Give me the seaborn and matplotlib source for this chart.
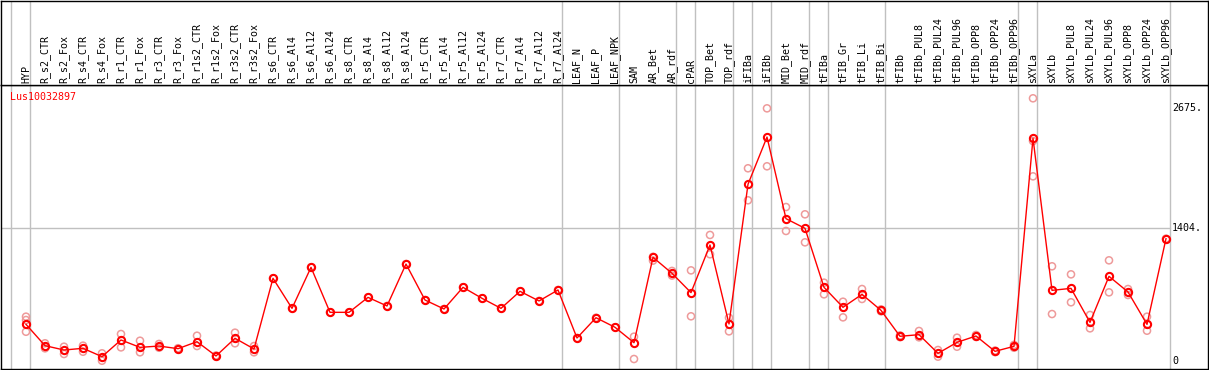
import numpy as np
import pandas as pd
import seaborn as sns
import matplotlib.pyplot as plt

## DATA ##
samples = ['HYP',
           'R_s2_CTR', 'R_s2_Fox', 'R_s4_CTR', 'R_s4_Fox', 'R_r1_CTR', 'R_r1_Fox',
           'R_r3_CTR', 'R_r3_Fox', 'R_r1s2_CTR', 'R_r1s2_Fox', 'R_r3s2_CTR', 'R_r3s2_Fox',
           'R_s6_CTR', 'R_s6_Al4', 'R_s6_Al12', 'R_s6_Al24', 'R_s8_CTR', 'R_s8_Al4',
           'R_s8_Al12', 'R_s8_Al24', 'R_r5_CTR', 'R_r5_Al4', 'R_r5_Al12', 'R_r5_Al24',
           'R_r7_CTR', 'R_r7_Al4', 'R_r7_Al12', 'R_r7_Al24',
           'LEAF_N', 'LEAF_P', 'LEAF_NPK', 'SAM', 'AR_Bet', 'AR_rdf', 'cPAR',
           'TOP_Bet', 'TOP_rdf', 'iFIBa', 'iFIBb', 'MID_Bet', 'MID_rdf', 'tFIBa',
           'tFIB_Gr', 'tFIB_Li', 'tFIB_Bi', 'tFIBb', 'tFIBb_PUL8', 'tFIBb_PUL24',
           'tFIBb_PUL96', 'tFIBb_OPP8', 'tFIBb_OPP24', 'tFIBb_OPP96', 'sXYLa', 'sXYLb',
           'sXYLb_PUL8', 'sXYLb_PUL24', 'sXYLb_PUL96', 'sXYLb_OPP8', 'sXYLb_OPP24',
           'sXYLb_OPP96']

mean_expr = [387,
             162, 116, 134, 46, 222, 144, 158, 130, 204, 53, 240, 127,
             873, 556, 989, 514, 514, 672, 581, 1024, 644, 549, 778, 662,
             556, 736, 634, 750,
             243, 457, 356, 193, 1095, 926, 722, 1225, 391, 1866, 2365, 1503, 1401,
             778, 567, 704, 535, 261, 278, 81, 197, 264, 102, 155,
             2352, 746, 767, 408, 894, 729, 387, 1292]

replicates = [[468, 433, 309],
              [187, 134], [151, 74], [162, 98], [81, 3], [285, 144], [214, 92],
              [180, 140], [135, 125], [267, 158], [58, 48], [299, 187], [158, 92],
              [873], [556], [989], [514], [514], [672], [581], [1024], [644], [549],
              [778], [662], [556], [736], [634], [750],
              [243], [457], [356], [257, 21], [1100, 1060], [951, 902], [957, 472],
              [1331, 1127], [457, 313], [2035, 1697], [2668, 2056], [1626, 1373],
              [1549, 1253],
              [827, 704], [626, 461], [760, 655], [545, 525], [270, 252], [317, 250],
              [116, 46], [246, 151], [275, 255], [110, 94], [170, 140],
              [2774, 2323, 1950], [1000, 496], [915, 620], [486, 345], [1063, 725],
              [760, 697], [468, 320], [1292]]

# indices after which a grey group separator is drawn (-1 = before first)
group_ends = [-1, 0, 28, 31, 34, 35, 37, 38, 39, 41, 42, 45, 52, 53, 60]

y_ticks = [0, 1404, 2675]
y_tick_labels = ['0', '1404.', '2675.']
gene_name = 'Lus10032897'

## PLOT ##
plt.rcParams['font.family'] = ['DejaVu Sans Mono']
plt.rcParams['font.size'] = 7.2

mean_df = pd.DataFrame({'pos': np.arange(len(samples)), 'expr': mean_expr})
rep_df = pd.DataFrame([(i, v) for i, vals in enumerate(replicates) for v in vals],
                      columns=['pos', 'expr'])

W, H = 1209, 370
fig = plt.figure(figsize=(W / 100, H / 100), dpi=100)

# pixel mapping: x = 26 + 19*i ; y = 361 - 0.0947*v
x_lo, x_hi = (1 - 26) / 19, (1208 - 26) / 19
ax = fig.add_axes([1 / W, (H - 369) / H, 1207 / W, 284 / H])
hdr = fig.add_axes([1 / W, (H - 85) / H, 1207 / W, 84 / H])

ax.set_xlim(x_lo, x_hi)
ax.set_ylim((361 - 369) / 0.0947, (361 - 85) / 0.0947)
hdr.set_xlim(x_lo, x_hi)
hdr.set_ylim(0, 84)

sep_x = [e + 0.22 for e in group_ends]
for a in (ax, hdr):
    for sx in sep_x:
        a.axvline(sx, color='#c0c0c0', lw=1, zorder=0)
    a.set_xticks([])
    a.set_yticks([])
    for s in a.spines.values():
        s.set_color('black')
        s.set_linewidth(1)

sep_frac = (sep_x[-1] - x_lo) / (x_hi - x_lo)
ax.axhline(1404, xmax=sep_frac, color='#c0c0c0', lw=1, zorder=0)

sns.scatterplot(data=rep_df, x='pos', y='expr', ax=ax, marker='o', s=26,
                facecolor='none', edgecolor='#ee9a9a', linewidth=1.1, zorder=2,
                legend=False)
sns.lineplot(data=mean_df, x='pos', y='expr', ax=ax, color='red', lw=1,
             marker='o', markersize=5.2, markerfacecolor='none',
             markeredgecolor='red', markeredgewidth=1.5, zorder=3)
ax.set_xlabel('')
ax.set_ylabel('')

for v, lab in zip(y_ticks, y_tick_labels):
    ax.text(sep_x[-1] + 0.1, v, lab, ha='left', va='center', color='black')

ax.text(x_lo + 9 / 19, (361 - 97) / 0.0947, gene_name, color='red',
        ha='left', va='center')

for i, name in enumerate(samples):
    hdr.text(i, 2, name, rotation=90, ha='center', va='bottom', color='black')

fig.savefig('out.png', dpi=100)
